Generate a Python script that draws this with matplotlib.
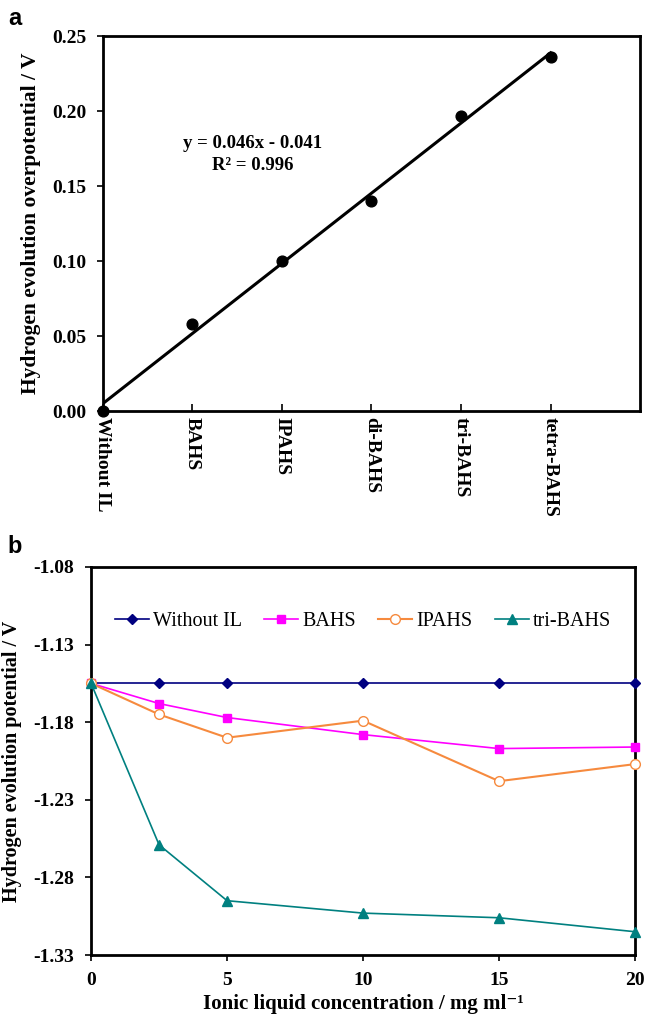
import numpy as np
import matplotlib
matplotlib.use("Agg")
import matplotlib.pyplot as plt

# panel a
ils = ["Without IL", "BAHS", "IPAHS", "di-BAHS", "tri-BAHS", "tetra-BAHS"]
overpot = [0.000, 0.058, 0.100, 0.140, 0.197, 0.236]

# panel b
conc = [0, 2.5, 5, 10, 15, 20]
without_il = [-1.155, -1.155, -1.155, -1.155, -1.155, -1.155]
bahs = [-1.155, -1.168, -1.177, -1.188, -1.197, -1.196]
ipahs = [-1.155, -1.175, -1.190, -1.179, -1.218, -1.207]
tri_bahs = [-1.155, -1.259, -1.295, -1.303, -1.306, -1.315]

plt.rcParams["font.family"] = ["Liberation Serif", "DejaVu Serif"]
plt.rcParams["font.weight"] = "bold"

fig = plt.figure(figsize=(6.46, 10.15), dpi=100)

# ---- panel a ----
ax1 = fig.add_axes([0.159, 0.595, 0.832, 0.3695])
xa = np.arange(1, len(ils) + 1)
slope, icpt = np.polyfit(xa, overpot, 1)
ax1.plot(xa, slope * xa + icpt, color="black", lw=2.2)
ax1.scatter(xa, overpot, s=60, color="black", zorder=3, clip_on=False)
ax1.set_xlim(1, 7)
ax1.set_ylim(0, 0.25)
ax1.set_yticks(np.arange(0, 0.26, 0.05))
ax1.set_yticklabels([f"{v:.2f}" for v in np.arange(0, 0.26, 0.05)])
ax1.set_xticks(xa)
ax1.set_xticklabels(ils, rotation=270, va="top", ha="center")
ax1.tick_params(axis="x", direction="in", length=5, width=1.2, labelsize=14, pad=4)
ax1.tick_params(axis="y", direction="out", length=4, width=1.2, labelsize=14, pad=8)
ax1.set_ylabel("Hydrogen evolution overpotential / V", fontsize=15.5, fontweight="bold", labelpad=8)
ax1.text(2.67, 0.171, "y = 0.046x - 0.041\nR² = 0.996", ha="center", va="center",
         fontsize=13.5, fontweight="bold", linespacing=1.35)
for s in ax1.spines.values():
    s.set_linewidth(2)
fig.text(0.012, 0.975, "a", fontsize=17, fontweight="bold", family="Liberation Sans")

# ---- panel b ----
ax2 = fig.add_axes([0.141, 0.0591, 0.842, 0.3823])
ax2.plot(conc, without_il, color="#000080", marker="D", ms=5, lw=1.2, label="Without IL", clip_on=False, zorder=3)
ax2.plot(conc, bahs, color="#FF00FF", marker="s", ms=6, lw=1.2, label="BAHS", clip_on=False, zorder=3)
ax2.plot(conc, ipahs, color="#F68A3E", marker="o", ms=7, mfc="white", mew=1.0, lw=1.5, label="IPAHS", clip_on=False, zorder=3)
ax2.plot(conc, tri_bahs, color="#008080", marker="^", ms=7, lw=1.2, label="tri-BAHS", clip_on=False, zorder=3)
ax2.set_xlim(0, 20)
ax2.set_ylim(-1.33, -1.08)
ax2.set_yticks([-1.33, -1.28, -1.23, -1.18, -1.13, -1.08])
ax2.set_yticklabels(["-1.33", "-1.28", "-1.23", "-1.18", "-1.13", "-1.08"])
ax2.set_xticks([0, 5, 10, 15, 20])
ax2.tick_params(axis="both", direction="out", length=4, width=1.2, labelsize=14)
ax2.tick_params(axis="x", pad=8)
ax2.tick_params(axis="y", pad=8)
ax2.set_ylabel("Hydrogen evolution potential / V", fontsize=14.5, fontweight="bold", labelpad=8)
ax2.set_xlabel("Ionic liquid concentration / mg ml⁻¹", fontsize=15, fontweight="bold", labelpad=4)
leg = ax2.legend(loc="upper center", bbox_to_anchor=(0.5, 0.905), ncol=4, frameon=False,
                 prop={"family": "Liberation Serif", "weight": "normal", "size": 14.5},
                 handlelength=1.7, handletextpad=0.2, columnspacing=1.1, borderaxespad=0)
for s in ax2.spines.values():
    s.set_linewidth(2)
fig.text(0.012, 0.455, "b", fontsize=17, fontweight="bold", family="Liberation Sans")

fig.savefig("out.png", dpi=100)
